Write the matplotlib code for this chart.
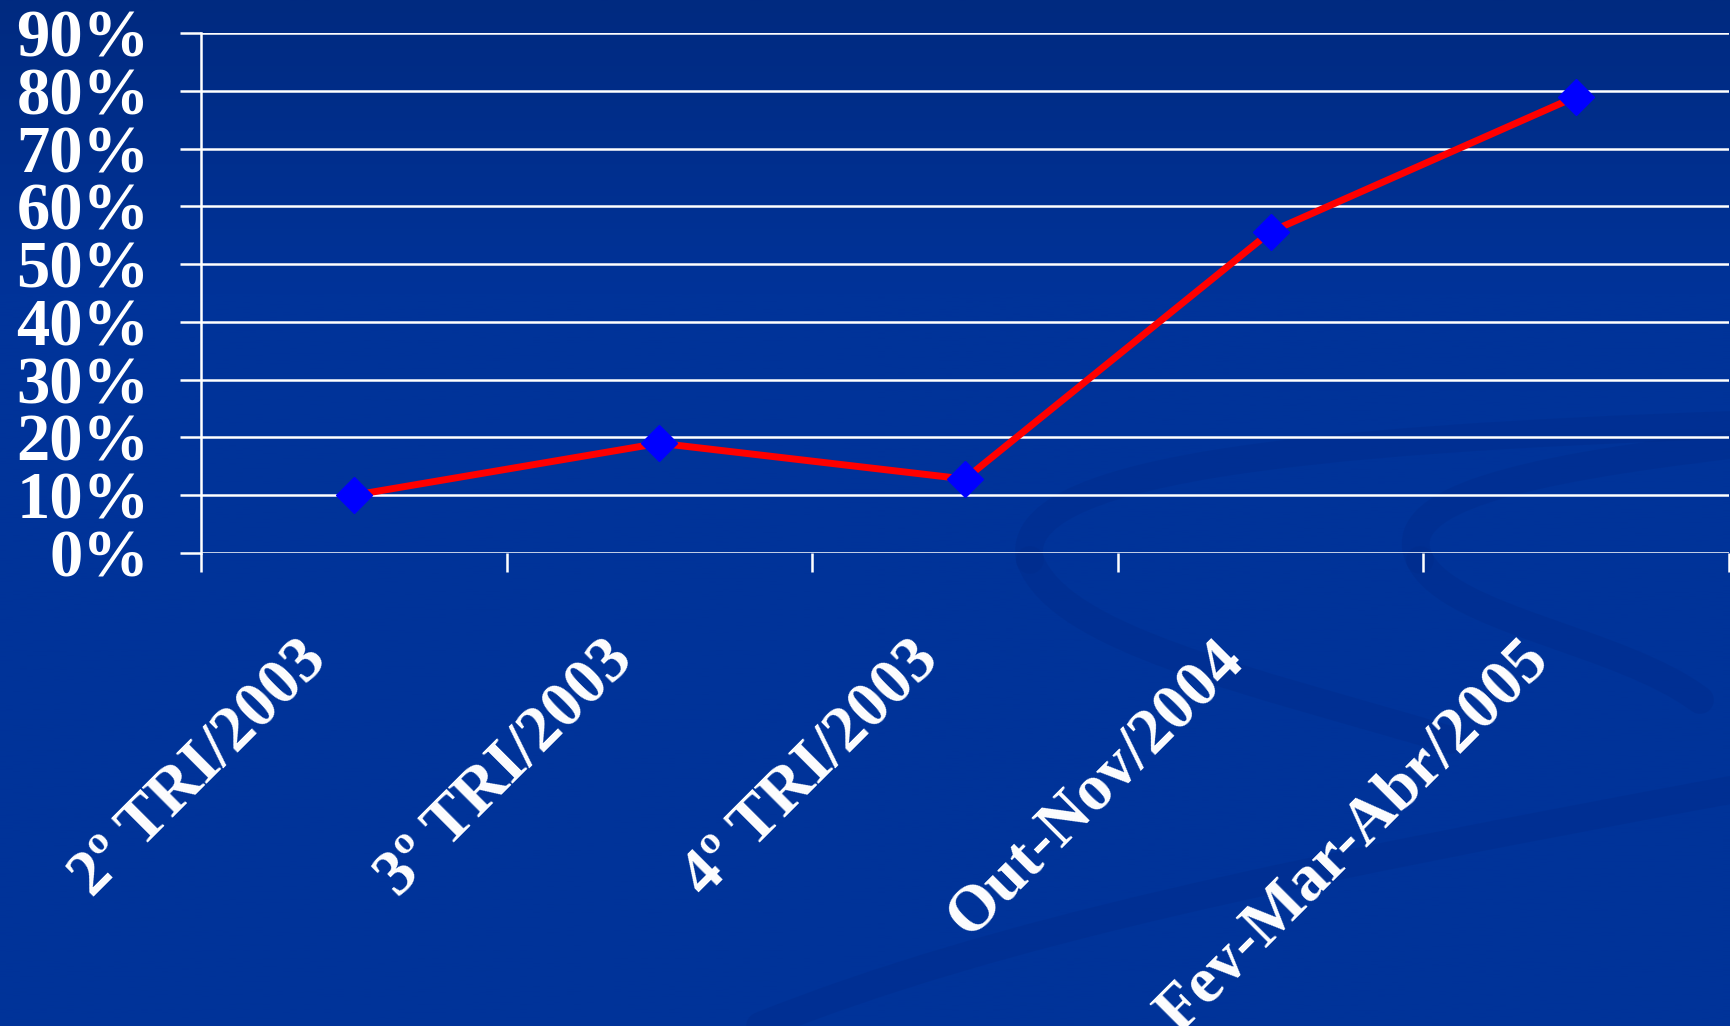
import numpy as np
import matplotlib.pyplot as plt
import matplotlib.transforms as mtransforms
from matplotlib.colors import LinearSegmentedColormap
from matplotlib.path import Path
from matplotlib.patches import PathPatch

# dados
periodos = ['2º TRI/2003', '3º TRI/2003', '4º TRI/2003', 'Out-Nov/2004', 'Fev-Mar-Abr/2005']
valores = [0.10, 0.19, 0.128, 0.556, 0.79]
y_ticks = np.arange(0, 0.91, 0.1)
y_labels = ['%d%%' % round(v * 100) for v in y_ticks]

W, H = 1730, 1026
fig = plt.figure(figsize=(W / 100, H / 100), dpi=100)

# fundo azul com leve degrade no topo
bg = fig.add_axes([0, 0, 1, 1], zorder=0)
bg.set_xlim(0, W)
bg.set_ylim(H, 0)
bg.axis('off')
cmap = LinearSegmentedColormap.from_list('fundo', ['#002a80', '#003399'])
grad = np.clip(np.linspace(0, 1, 400) * 3.5, 0, 1).reshape(-1, 1)
bg.imshow(grad, cmap=cmap, aspect='auto', extent=[0, W, H, 0], zorder=0)

# enfeite (espirais mais escuras no canto inferior direito)
cor_enfeite = '#002c8c'
curvas = [
    [(760, 1026), (1000, 930), (1300, 870), (1730, 790)],
    [(1730, 425), (1300, 440), (1010, 470), (1030, 560)],
    [(1030, 560), (1060, 640), (1250, 680), (1450, 740)],
    [(1730, 445), (1520, 470), (1390, 500), (1420, 560)],
    [(1420, 560), (1450, 620), (1620, 640), (1700, 700)],
]
for pts in curvas:
    path = Path(pts, [Path.MOVETO, Path.CURVE4, Path.CURVE4, Path.CURVE4])
    bg.add_patch(PathPatch(path, fc='none', ec=cor_enfeite, lw=20, alpha=0.45,
                           capstyle='round', zorder=1))

plt.rcParams['font.family'] = ['Liberation Serif', 'DejaVu Serif']

ax = fig.add_axes([201 / W, 1 - 553 / H, 1528 / W, 520 / H], zorder=2)
ax.set_facecolor('none')
ax.plot(range(len(valores)), valores, color='#ff0000', lw=5, marker='D', ms=18.5,
        mfc='#0000ff', mec='#0000ff', zorder=3, clip_on=False)

ax.set_xlim(-0.5, len(periodos) - 0.5)
ax.set_ylim(0, 0.9)
ax.set_yticks(y_ticks)
ax.set_yticklabels(y_labels, fontsize=48, fontweight='bold', color='white')
ax.yaxis.grid(True, color='white', lw=1.8)
ax.set_axisbelow(True)
ax.tick_params(axis='y', length=15, width=1.8, color='white', pad=22)

ax.set_xticks(range(len(periodos)))
ax.set_xticks(np.arange(-0.5, len(periodos)), minor=True)
ax.set_xticklabels(periodos, fontsize=47, fontweight='bold', color='white',
                   rotation=45, ha='right', va='center', rotation_mode='anchor')
ax.tick_params(axis='x', which='major', length=0, pad=70)
ax.tick_params(axis='x', which='minor', length=13.5, width=1.8, color='white')
desloc = mtransforms.ScaledTranslation(-0.36, 0, fig.dpi_scale_trans)
for lbl in ax.get_xticklabels():
    lbl.set_transform(lbl.get_transform() + desloc)

for s in ['top', 'right', 'bottom']:
    ax.spines[s].set_visible(False)
ax.spines['left'].set_color('white')
ax.spines['left'].set_linewidth(1.8)

fig.savefig('out.png', dpi=100)
